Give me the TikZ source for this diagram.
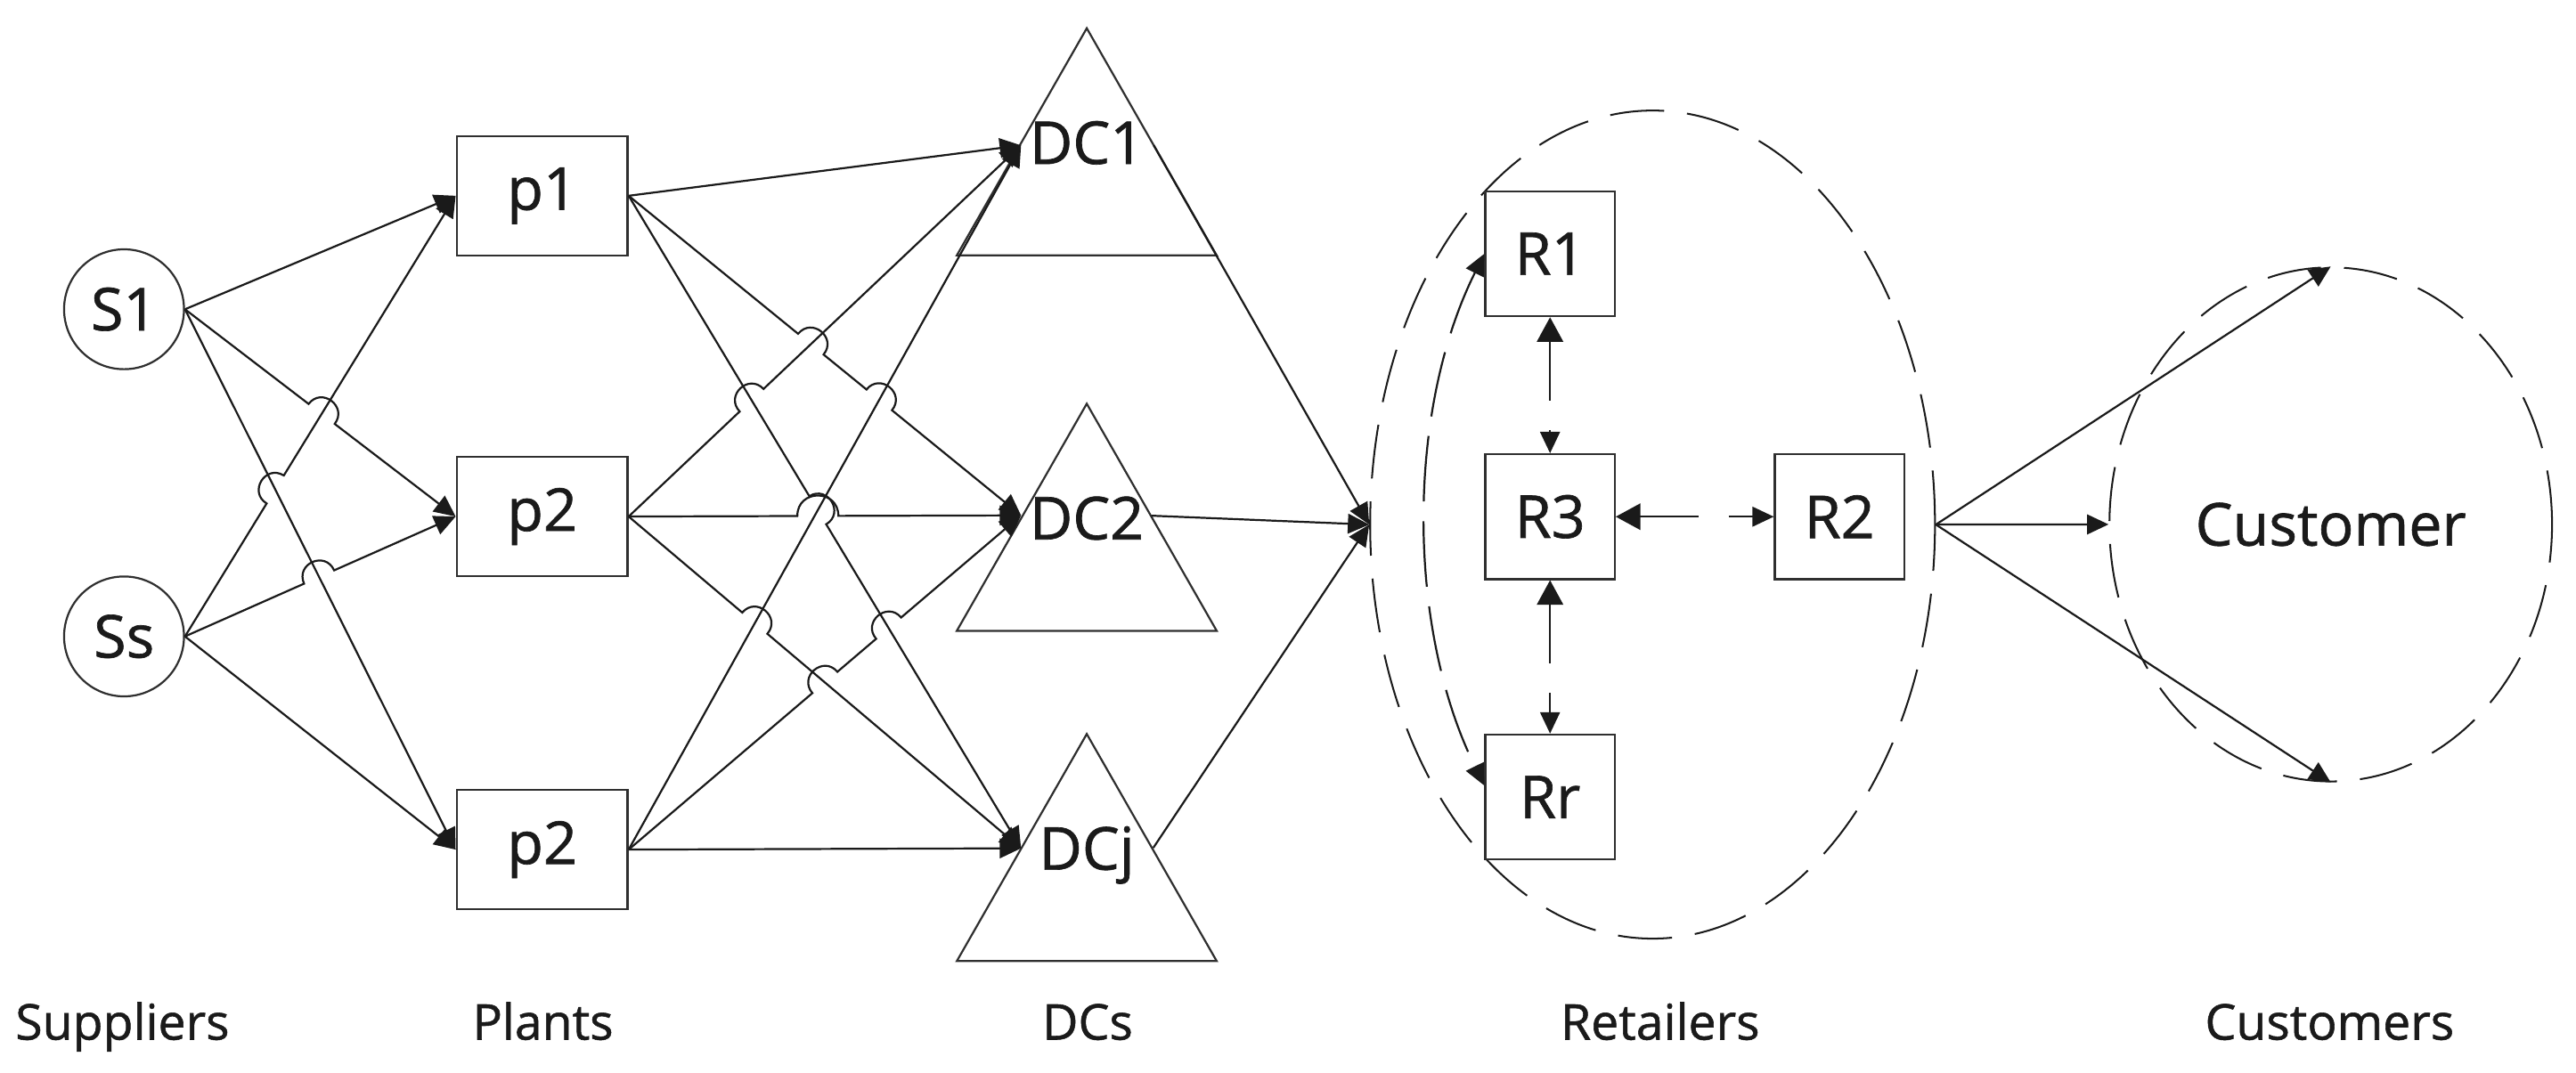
\documentclass[tikz,border=0pt]{standalone}
\usepackage{fontspec}
\setmainfont{Open Sans}[FakeBold=1.0]
\usetikzlibrary{arrows.meta,calc,intersections,shapes.geometric}
\definecolor{inkc}{HTML}{1A1A1A}
\definecolor{boxc}{HTML}{2F2F2F}
\begin{document}
\begin{tikzpicture}[x=1pt,y=-1pt,
  nodefont/.style={font=\fontsize{36}{40}\selectfont, text=inkc},
  pbox/.style={draw=boxc, line width=1.3pt, minimum width=104pt, minimum height=72.5pt, inner sep=0pt, nodefont},
  rbox/.style={pbox, minimum width=78.7pt, minimum height=76pt},
  sup/.style={circle, draw=boxc, line width=1.2pt, minimum size=73pt, inner sep=0pt, nodefont},
  tri/.style={draw=boxc, line width=1.2pt, line join=miter},
  dclabel/.style={nodefont, anchor=base, inner sep=0pt},
  tipS/.tip={Triangle[length=13pt,width=12pt]},
  tipB/.tip={Triangle[length=15pt,width=16pt]},
  conn/.style={draw=inkc, line width=1.2pt, -tipS},
  wire/.style={draw=inkc, line width=1.2pt},
  dconn/.style={draw=inkc, line width=1.2pt, tipB-tipS, dash pattern=on 36pt off 18pt},
  arcconn/.style={draw=inkc, line width=1.2pt, tipS-tipS, dash pattern=on 40pt off 12pt},
  group/.style={ellipse, draw=inkc, line width=1.1pt, dash pattern=on 33pt off 14pt, inner sep=0pt},
  lbl/.style={font=\fontsize{30}{34}\selectfont, text=inkc, anchor=base, inner sep=0pt},
  hopover/.style n args={4}{insert path={-- ($(#1)!#4!(#2)$) to[bend left=90,looseness=1.7] ($(#1)!#4!(#3)$)}},
]
\useasboundingbox (0,0) rectangle (1568,653.33);

% ---------- suppliers and plants
\node[sup] (s1) at (75.5,188.3) {S1};
\node[sup] (ss) at (75.5,387.5) {Ss};
\node[pbox] (p1) at (330,119.2) {p1};
\node[pbox] (p2) at (330,314.5) {p2};
\node[pbox] (p3) at (330,517.3) {p2};

% ---------- DC triangles
\draw[tri] (661.5,17.2) -- (740.6,155.5) -- (582.4,155.5) -- cycle;
\draw[tri] (661.5,245.8) -- (740.6,384.1) -- (582.4,384.1) -- cycle;
\draw[tri] (661.5,446.9) -- (740.6,585.2) -- (582.4,585.2) -- cycle;
\node[dclabel] (dc1) at (661.5,99.8) {DC1};
\node[dclabel] (dc2) at (661.5,328.4) {DC2};
\node[dclabel] (dcj) at (661.5,529.5) {DCj};
\coordinate (dc1w) at (621.5,88.5);
\coordinate (dc2w) at (621.5,313.8);
\coordinate (dcjw) at (621.5,516.5);
\coordinate (dc1e) at (702.3,88.5);
\coordinate (dc2e) at (701,314);
\coordinate (dcje) at (702,516.2);

% ---------- retailers
\node[group, minimum width=343.8pt, minimum height=504.2pt] (ret) at (1005.9,319.4) {};
\node[rbox] (r1) at (943.5,154.5) {R1};
\node[rbox] (r3) at (943.5,314.6) {R3};
\node[rbox] (rr) at (943.5,485.3) {Rr};
\node[rbox] (r2) at (1119.7,314.6) {R2};
\coordinate (rrin) at ($(rr.west)+(0,-7)$);

% ---------- customers
\node[group, minimum width=269.4pt, minimum height=313pt, nodefont] (cust) at (1418.7,319.3) {Customer};

% ---------- intersection helpers (suppliers -> plants)
\path[name path=m12] (s1.east) -- (p2.west);
\path[name path=m13] (s1.east) -- (p3.west);
\path[name path=ms1] (ss.east) -- (p1.west);
\path[name path=ms2] (ss.east) -- (p2.west);
\path[name intersections={of=m12 and ms1, by=h1}];
\path[name intersections={of=ms1 and m13, by=h2}];
\path[name intersections={of=ms2 and m13, by=h3}];

% ---------- intersection helpers (plants -> DCs)
\path[name path=l12] (p1.east) -- (dc2w);
\path[name path=l13] (p1.east) -- (dcjw);
\path[name path=l21] (p2.east) -- (dc1w);
\path[name path=l22] (p2.east) -- (dc2w);
\path[name path=l23] (p2.east) -- (dcjw);
\path[name path=l31] (p3.east) -- (dc1w);
\path[name path=l32] (p3.east) -- (dc2w);
\path[name intersections={of=l12 and l21, by=k1}];
\path[name intersections={of=l12 and l31, by=k2}];
\path[name intersections={of=l21 and l13, by=k3}];
\path[name intersections={of=l13 and l31, by=k4}];
\path[name intersections={of=l22 and l31, by=k5a}];
\path[name intersections={of=l22 and l13, by=k5b}];
\coordinate (k5) at ($(k5a)!0.5!(k5b)$);
\path[name intersections={of=l23 and l31, by=k6}];
\path[name intersections={of=l32 and l23, by=k7}];
\path[name intersections={of=l32 and l13, by=k8}];

% ---------- suppliers -> plants
\draw[conn] (s1.east) -- (p1.west);
\draw[conn] (s1.east) [hopover={h1}{s1.east}{p2.west}{10pt}] -- (p2.west);
\draw[conn] (s1.east) -- (p3.west);
\draw[conn] (ss.east) [hopover={h2}{ss.east}{p1.west}{10pt}] -- (p1.west);
\draw[conn] (ss.east) [hopover={h3}{ss.east}{p2.west}{10pt}] -- (p2.west);
\draw[conn] (ss.east) -- (p3.west);

% ---------- plants -> DCs
\draw[conn] (p1.east) -- (dc1w);
\draw[conn] (p1.east) [hopover={k1}{p1.east}{dc2w}{10pt}] [hopover={k2}{p1.east}{dc2w}{10pt}] -- (dc2w);
\draw[conn] (p1.east) [hopover={k4}{p1.east}{dcjw}{10pt}] -- (dcjw);
\draw[conn] (p2.east) [hopover={k3}{p2.east}{dc1w}{10pt}] -- (dc1w);
\draw[conn] (p2.east) [hopover={k5}{p2.east}{dc2w}{12.5pt}] -- (dc2w);
\draw[conn] (p2.east) [hopover={k6}{p2.east}{dcjw}{10pt}] -- (dcjw);
\draw[conn] (p3.east) -- (dc1w);
\draw[conn] (p3.east) [hopover={k7}{p3.east}{dc2w}{10pt}] [hopover={k8}{p3.east}{dc2w}{10pt}] -- (dc2w);
\draw[conn] (p3.east) -- (dcjw);

% ---------- DCs -> retailers
\draw[conn] (dc1e) -- (ret.west);
\draw[conn] (dc2e) -- (ret.west);
\draw[conn] (dcje) -- (ret.west);

% ---------- inside retailers
\draw[dconn] (r1.south) -- (r3.north);
\draw[dconn] (r3.south) -- (rr.north);
\draw[dconn] (r3.east) -- (r2.west);
\draw[arcconn] (r1.west) .. controls (856,250) and (856,382) .. (rrin);

% ---------- retailers -> customers
\draw[conn] (ret.east) -- (cust.north);
\draw[conn] (ret.east) -- (cust.west);
\draw[conn] (ret.east) -- (cust.south);

% ---------- column labels
\node[lbl] (lsup) at (74.5,633) {Suppliers};
\node[lbl] (lpla) at (330.5,633) {Plants};
\node[lbl] (ldcs) at (662,633) {DCs};
\node[lbl] (lret) at (1010.5,633) {Retailers};
\node[lbl] (lcus) at (1418,633) {Customers};
\end{tikzpicture}
\end{document}
